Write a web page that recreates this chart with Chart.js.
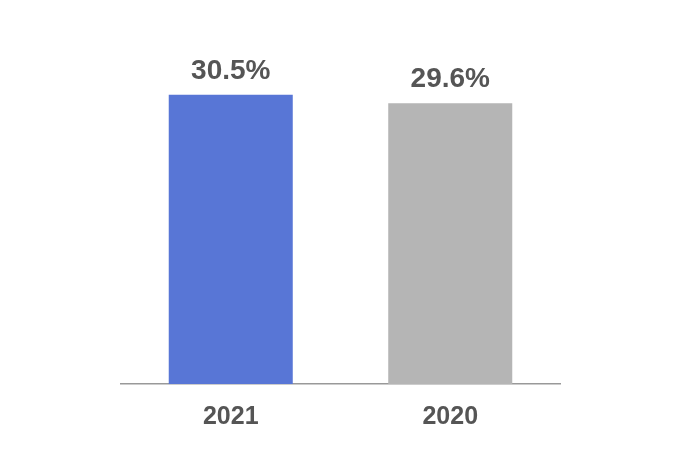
<!DOCTYPE html>
<html>
<head>
<meta charset="utf-8">
<script src="https://cdn.jsdelivr.net/npm/chart.js@4"></script>
<style>
  html, body { margin: 0; padding: 0; background: #fff; }
  #wrap { width: 680px; height: 450px; }
</style>
</head>
<body>
<div id="wrap"><canvas id="chart"></canvas></div>
<script>
// values
var years = ["2021", "2020"];
var shares = [30.5, 29.6];
var barColors = ["#5876d6", "#b5b5b5"];

// write the percentage above every bar
var valueLabels = {
    id: "valueLabels",
    afterDatasetsDraw: function (chart) {
        var ctx = chart.ctx;
        var meta = chart.getDatasetMeta(0);
        ctx.save();
        ctx.font = "bold 28px 'Liberation Sans', Arial, sans-serif";
        ctx.fillStyle = "#555555";
        ctx.textAlign = "center";
        ctx.textBaseline = "alphabetic";
        meta.data.forEach(function (bar, i) {
            ctx.fillText(shares[i].toFixed(1) + "%", bar.x, bar.y - 16);
        });
        ctx.restore();
    }
};

var ctx = document.getElementById("chart").getContext("2d");

new Chart(ctx, {
    type: "bar",
    data: {
        labels: years,
        datasets: [
            {
                data: shares,
                backgroundColor: barColors,
                borderWidth: 0,
                categoryPercentage: 1,
                barPercentage: 0.565
            }
        ]
    },
    options: {
        responsive: true,
        maintainAspectRatio: false,
        animation: false,
        layout: {
            padding: { left: 121, right: 120, top: 52, bottom: 0 }
        },
        plugins: {
            legend: { display: false },
            tooltip: { enabled: false }
        },
        scales: {
            x: {
                grid: { display: false, drawTicks: false },
                border: { display: true, color: "#999999", width: 1.5 },
                ticks: {
                    padding: 18,
                    color: "#555555",
                    font: { family: "'Liberation Sans', Arial, sans-serif", size: 25, weight: "bold" }
                }
            },
            y: {
                display: false,
                min: 0,
                max: 35
            }
        }
    },
    plugins: [valueLabels]
});
</script>
</body>
</html>
